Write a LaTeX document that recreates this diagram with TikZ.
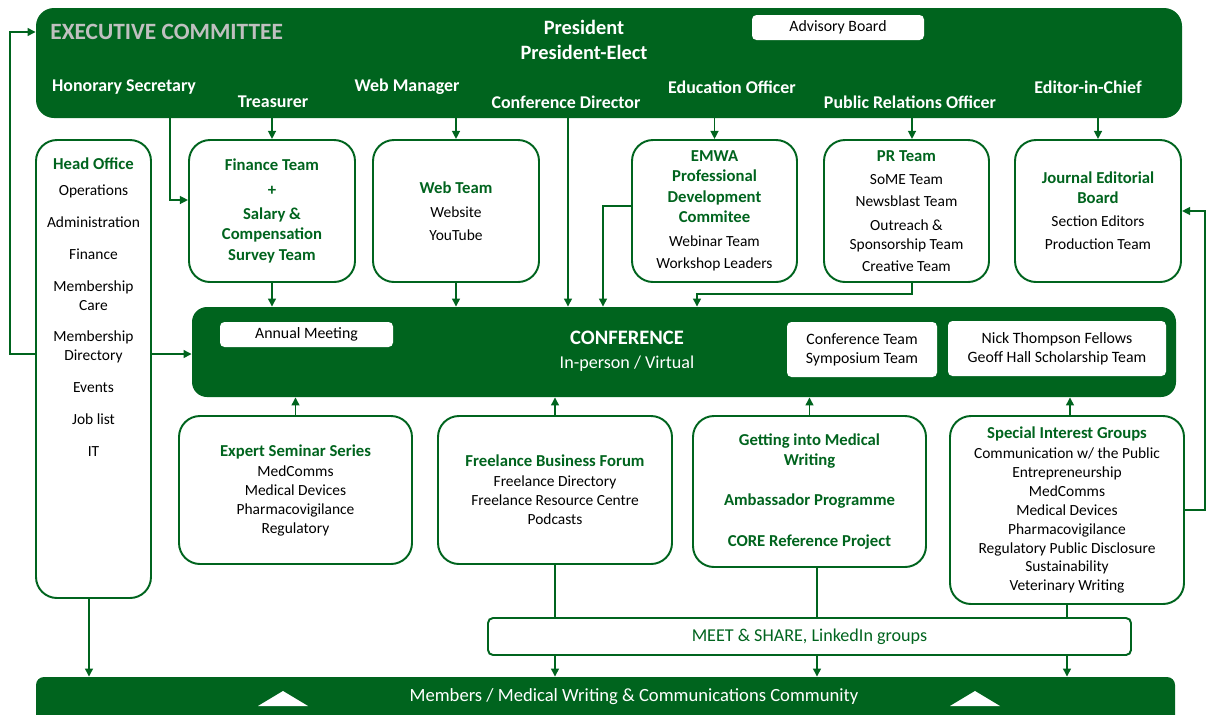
\documentclass[tikz,border=0pt]{standalone}
\usepackage{fontspec}
\setmainfont{Carlito}
\usetikzlibrary{arrows.meta,fit,positioning}
\definecolor{emwagreen}{RGB}{0,100,30}
\definecolor{titlegray}{RGB}{192,192,192}
\newcommand\bodyfont{\fontsize{8.8}{10.8}\selectfont}
\newcommand\hd[1]{{\color{emwagreen}\bfseries\fontsize{9.5}{10.8}\selectfont #1}}

\begin{document}
\begin{tikzpicture}[x=0.02cm,y=-0.02cm,
    arr/.style={draw=emwagreen,line width=1.1pt,-{Triangle[length=4.6pt,width=4.4pt]}},
    link/.style={draw=emwagreen,line width=1.1pt},
    boxsize/.style 2 args={minimum width=#1*0.02cm,minimum height=#2*0.02cm},
    box/.style={draw=emwagreen,line width=1.1pt,fill=white,rounded corners=0.42cm,inner sep=0pt,align=center,font=\bodyfont},
    bar/.style={fill=emwagreen,rounded corners=0.36cm,inner sep=0pt},
    wbox/.style={fill=white,rounded corners=0.09cm,inner sep=0pt,align=center,font=\fontsize{9}{10.8}\selectfont},
    officer/.style={text=white,inner sep=0pt,font=\bfseries\fontsize{10.2}{12}\selectfont}]
    \useasboundingbox (0,0) rectangle (1207,714);
    \clip (0,0) rectangle (1207,714);

    % executive committee
    \node[bar, fit={(36,8) (1182,118)}] (exec) {};
    \node[anchor=west, text=titlegray, inner sep=0pt, font=\bfseries\fontsize{13.3}{16}\selectfont] (title) at (50,32) {EXECUTIVE COMMITTEE};
    \node[officer, font=\bfseries\fontsize{11.6}{14}\selectfont] (pres) at (584,27) {President};
    \node[officer, font=\bfseries\fontsize{11.6}{14}\selectfont] (preselect) at (584,52) {President-Elect};
    \node[wbox, boxsize={172}{25}] (advisory) at (838,27.5) {Advisory Board};
    \node[officer] (honsec) at (124,87) {Honorary Secretary};
    \node[officer] (treasurer) at (273,102) {Treasurer};
    \node[officer] (webman) at (407,87) {Web Manager};
    \node[officer] (confdir) at (566,102) {Conference Director};
    \node[officer] (eduoff) at (732,87) {Education Officer};
    \node[officer] (proff) at (910,102) {Public Relations Officer};
    \node[officer] (editor) at (1088,87) {Editor-in-Chief};

    % head office
    \node[box, fit={(36,140) (151,598)}] (head) {};
    \node[anchor=north, align=center, font=\bodyfont, inner sep=0pt] (headlist) at (93.5,157)
        {\hd{Head Office}\\[4pt] Operations\\[7.4pt] Administration\\[7.4pt] Finance\\[7.4pt]
         Membership\\ Care\\[7.4pt] Membership\\ Directory\\[7.4pt] Events\\[7.4pt] Job list\\[7.4pt] IT};

    % teams
    \node[box, boxsize={166}{142}] (finance) at (272,211)
        {\hd{Finance Team}\\[3.4pt] \hd{+}\\[2.8pt] \hd{Salary \&}\\[1.1pt] \hd{Compensation}\\[1.1pt] \hd{Survey Team}};
    \node[box, boxsize={166}{142}] (web) at (456,211)
        {\hd{Web Team}\\[2.8pt] Website\\[2.3pt] YouTube};
    \node[box, boxsize={165}{142}] (emwa) at (714.5,211)
        {\hd{EMWA}\\[0.6pt] \hd{Professional}\\[1.1pt] \hd{Development}\\[0.6pt] \hd{Commitee}\\[2.8pt] Webinar Team\\[1.7pt] Workshop Leaders};
    \node[box, boxsize={165}{142}] (prteam) at (906.5,211)
        {\hd{PR Team}\\[2.3pt] SoME Team\\[1.7pt] Newsblast Team\\[2.8pt] Outreach \&\\ Sponsorship Team\\[1.7pt] Creative Team};
    \node[box, boxsize={166}{142}] (journal) at (1098,211)
        {\hd{Journal Editorial}\\[0.6pt] \hd{Board}\\[2.3pt] Section Editors\\[2.3pt] Production Team};

    % conference
    \node[bar, rounded corners=0.3cm, fit={(192,307) (1176,397)}] (conf) {};
    \node[wbox, boxsize={173}{25}] (annual) at (306.5,334.5) {Annual Meeting};
    \node[text=white, align=center, inner sep=0pt, font=\fontsize{10.3}{13.6}\selectfont] (conftitle) at (627,351)
        {{\bfseries\fontsize{11.7}{14}\selectfont CONFERENCE}\\ In-person / Virtual};
    \node[wbox, boxsize={150}{55}] (confteam) at (862,349.5) {Conference Team\\ Symposium Team};
    \node[wbox, boxsize={218}{55}] (fellows) at (1057,348.5) {Nick Thompson Fellows\\ Geoff Hall Scholarship Team};

    % groups and forums
    \node[box, boxsize={233}{148}] (expert) at (295.5,490)
        {\hd{Expert Seminar Series}\\[0.6pt] MedComms\\ Medical Devices\\ Pharmacovigilance\\ Regulatory};
    \node[box, boxsize={234}{148}] (freelance) at (555,490)
        {\hd{Freelance Business Forum}\\[0.6pt] Freelance Directory\\ Freelance Resource Centre\\ Podcasts};
    \node[box, boxsize={233}{151}] (getting) at (809.5,491.5)
        {\hd{Getting into Medical}\\[1.1pt] \hd{Writing}\\[12pt] \hd{Ambassador Programme}\\[12.5pt] \hd{CORE Reference Project}};
    \node[box, boxsize={234}{188}] (sig) at (1067,510)
        {\hd{Special Interest Groups}\\[0.6pt] Communication w/ the Public\\ Entrepreneurship\\ MedComms\\ Medical Devices\\
         Pharmacovigilance\\ Regulatory Public Disclosure\\ Sustainability\\ Veterinary Writing};
    \node[box, rounded corners=0.1cm, boxsize={643}{37}, text=emwagreen, font=\fontsize{10.3}{12}\selectfont] (meet) at (809.5,636.5)
        {MEET \& SHARE, LinkedIn groups};

    % members
    \node[bar, rounded corners=0.16cm, fit={(36,677) (1175,730)}] (members) {};
    \node[text=white, inner sep=0pt, font=\fontsize{10.6}{13}\selectfont] (memberstxt) at (634,697)
        {Members / Medical Writing \& Communications Community};
    \fill[white] (258,706) -- (283,691) -- (308,706) -- cycle;
    \fill[white] (950,706) -- (975,691) -- (1000,706) -- cycle;

    % connectors from the officers
    \draw[arr, shorten >=3pt] (advisory.west) -- (pres.east);
    \coordinate (hs) at (170,200);
    \draw[arr] (exec.south -| hs) |- (finance.west |- hs);
    \draw[arr] (exec.south -| finance.north) -- (finance.north);
    \draw[arr] (exec.south -| web.north) -- (web.north);
    \coordinate (cd) at (568,0);
    \draw[arr] (exec.south -| cd) -- (conf.north -| cd);
    \draw[arr] (exec.south -| emwa.north) -- (emwa.north);
    \coordinate (pr) at (912,0);
    \draw[arr] (exec.south -| pr) -- (prteam.north -| pr);
    \draw[arr] (exec.south -| journal.north) -- (journal.north);

    % into the conference
    \draw[arr] (finance.south) -- (finance.south |- conf.north);
    \draw[arr] (web.south) -- (web.south |- conf.north);
    \coordinate (em) at (603,206);
    \draw[arr] (emwa.west |- em) -| (conf.north -| em);
    \coordinate (prdrop) at (697,294);
    \draw[arr] (prteam.south -| pr) |- (prdrop) -- (conf.north -| prdrop);
    \coordinate (ho) at (10,354);
    \draw[arr] (head.west |- ho) -- (ho) |- (exec.west |- title);
    \draw[arr] (head.east |- ho) -- (conf.west |- ho);
    \draw[arr] (expert.north) -- (expert.north |- conf.south);
    \draw[arr] (freelance.north) -- (freelance.north |- conf.south);
    \draw[arr] (getting.north) -- (getting.north |- conf.south);
    \coordinate (sg) at (1070,0);
    \draw[arr] (sig.north -| sg) -- (conf.south -| sg);
    \coordinate (side) at (1205,510);
    \draw[arr] (sig.east |- side) -- (side) |- (journal.east);

    % down to the members
    \draw[link] (freelance.south) -- (freelance.south |- meet.north);
    \coordinate (gw) at (817,0);
    \draw[link] (getting.south -| gw) -- (meet.north -| gw);
    \draw[link] (sig.south) -- (sig.south |- meet.north);
    \draw[arr] (meet.south -| freelance) -- (members.north -| freelance);
    \draw[arr] (meet.south -| gw) -- (members.north -| gw);
    \draw[arr] (meet.south -| sig) -- (members.north -| sig);
    \coordinate (hb) at (89,0);
    \draw[arr] (head.south -| hb) -- (members.north -| hb);
\end{tikzpicture}
\end{document}
